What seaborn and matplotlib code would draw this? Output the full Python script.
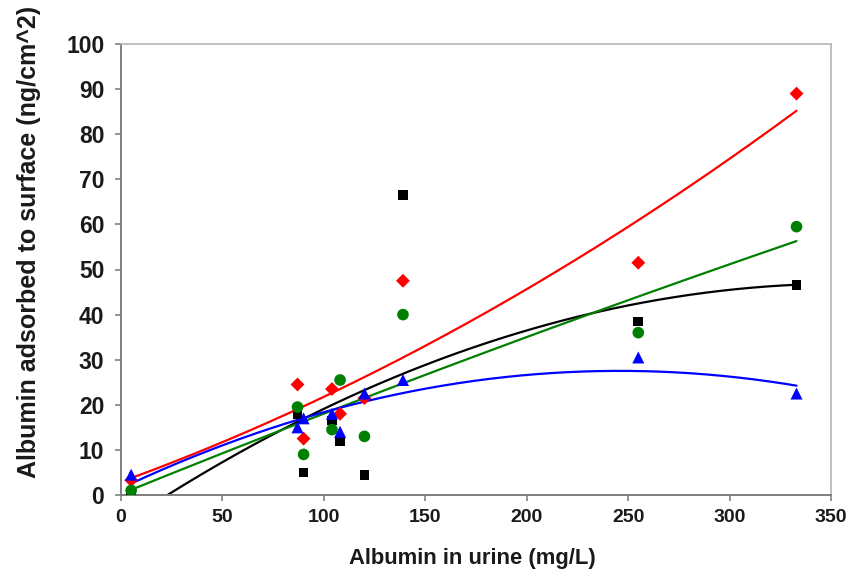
import numpy as np
import pandas as pd
import matplotlib
matplotlib.use("Agg")
import matplotlib.pyplot as plt
import seaborn as sns

# Albumin concentration in urine (mg/L)
urine_albumin = [5, 87, 90, 104, 108, 120, 139, 255, 333]

# Albumin adsorbed to the surface (ng/cm^2), one list per surface
adsorbed_black = [0.5, 18.0, 5.0, 16.5, 12.0, 4.5, 66.5, 38.5, 46.5]
adsorbed_red = [3.3, 24.5, 12.5, 23.5, 18.0, 21.5, 47.5, 51.5, 89.0]
adsorbed_green = [1.0, 19.5, 9.0, 14.5, 25.5, 13.0, 40.0, 36.0, 59.5]
adsorbed_blue = [4.5, 15.0, 17.0, 18.0, 14.0, 22.5, 25.5, 30.5, 22.5]

series_names = ["black", "red", "green", "blue"]
series_values = [adsorbed_black, adsorbed_red, adsorbed_green, adsorbed_blue]
series_colors = {"black": "#000000", "red": "#ff0000", "green": "#008000", "blue": "#0000ff"}
series_markers = {"black": "s", "red": "D", "green": "o", "blue": "^"}
marker_sizes = {"black": 48, "red": 50, "green": 70, "blue": 75}

x_ticks = [0, 50, 100, 150, 200, 250, 300, 350]
y_ticks = [0, 10, 20, 30, 40, 50, 60, 70, 80, 90, 100]

points = pd.DataFrame({
    "urine": np.tile(urine_albumin, len(series_names)),
    "adsorbed": np.concatenate(series_values),
    "series": np.repeat(series_names, len(urine_albumin)),
})

# Second-order polynomial trend line for each series
x_fit = np.linspace(min(urine_albumin), max(urine_albumin), 300)
trend_frames = []
for name, values in zip(series_names, series_values):
    coeffs = np.polyfit(urine_albumin, values, 2)
    trend_frames.append(pd.DataFrame({"urine": x_fit,
                                      "adsorbed": np.polyval(coeffs, x_fit),
                                      "series": name}))
trends = pd.concat(trend_frames, ignore_index=True)

sns.set_theme(style="white")
plt.rcParams["font.family"] = ["Liberation Sans", "DejaVu Sans"]
plt.rcParams["font.weight"] = "bold"

fig = plt.figure(figsize=(8.53, 5.78), dpi=100)
ax = fig.add_axes([121 / 853, 1 - 495 / 578, (831 - 121) / 853, (495 - 44) / 578])

for name in ["black", "green", "red", "blue"]:
    sub = trends[trends["series"] == name]
    sns.lineplot(data=sub, x="urine", y="adsorbed", color=series_colors[name],
                 linewidth=1.6, ax=ax, zorder=2, legend=False)

for name in series_names:
    sub = points[points["series"] == name]
    sns.scatterplot(data=sub, x="urine", y="adsorbed", color=series_colors[name],
                    marker=series_markers[name], s=marker_sizes[name],
                    edgecolor="none", linewidth=0, ax=ax, zorder=3, legend=False)

ax.set_xlim(0, 350)
ax.set_ylim(0, 100)
ax.set_xticks(x_ticks)
ax.set_yticks(y_ticks)
ax.tick_params(axis="both", direction="out", length=4, width=1.2, color="#808080",
               bottom=True, left=True, pad=6)
ax.tick_params(axis="x", labelsize=14)
ax.tick_params(axis="y", labelsize=16.5, pad=8)
for lbl in ax.get_xticklabels() + ax.get_yticklabels():
    lbl.set_fontweight("bold")
    lbl.set_color("#1a1a1a")

for side in ["left", "bottom"]:
    ax.spines[side].set_color("#7f7f7f")
    ax.spines[side].set_linewidth(1.4)
for side in ["top", "right"]:
    ax.spines[side].set_color("#b5b5b5")
    ax.spines[side].set_linewidth(1.2)

ax.set_xlabel("Albumin in urine (mg/L)", fontsize=15.8, fontweight="bold",
              color="#1a1a1a")
ax.set_ylabel("Albumin adsorbed to surface (ng/cm^2)", fontsize=18,
              fontweight="bold", color="#1a1a1a")
ax.xaxis.set_label_coords(0.495, -0.117)
ax.yaxis.set_label_coords(-0.112, 0.561)

fig.savefig("out.png", dpi=100)
